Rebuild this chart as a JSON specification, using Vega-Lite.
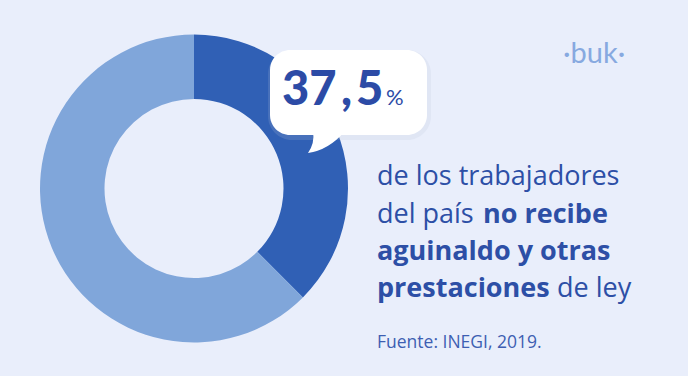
{
  "$schema": "https://vega.github.io/schema/vega-lite/v6.json",
  "width": 688,
  "height": 376,
  "autosize": {"type": "fit", "contains": "padding"},
  "padding": 0,
  "background": "#E9EEFB",
  "config": {"view": {"stroke": null}},
  "layer": [
    {
      "data": {"values": [
        {"categoria": "No recibe aguinaldo", "porcentaje": 37.5, "orden": 1},
        {"categoria": "Recibe aguinaldo", "porcentaje": 62.5, "orden": 2}
      ]},
      "mark": {"type": "arc", "x": 194, "y": 188.5, "outerRadius": 154, "innerRadius": 89.5},
      "encoding": {
        "theta": {"field": "porcentaje", "type": "quantitative", "stack": true},
        "order": {"field": "orden", "type": "quantitative"},
        "color": {"field": "categoria", "type": "nominal", "legend": null,
          "scale": {"domain": ["No recibe aguinaldo", "Recibe aguinaldo"], "range": ["#3060B5", "#80A6DA"]}}
      }
    },
    {
      "data": {"values": [{"a": 1}]},
      "mark": {"type": "rect", "x": 268, "x2": 431, "y": 50, "y2": 140, "cornerRadius": 24, "color": "#B8C2DA", "opacity": 0.18},
      "encoding": {}
    },
    {
      "data": {"values": [{"a": 1}]},
      "mark": {"type": "rect", "x": 270, "x2": 427, "y": 50, "y2": 135, "cornerRadius": 20, "color": "#FFFFFF"},
      "encoding": {}
    },
    {
      "data": {"values": [{"a": 1}]},
      "mark": {"type": "point", "x": 327, "y": 143, "size": 1600, "filled": true, "opacity": 1, "color": "#FFFFFF",
        "shape": "M -0.7 -0.6 L 0.9 -0.6 Q 0.1 0.35 -0.95 0.5 Q -0.6 0 -0.7 -0.6 Z"},
      "encoding": {}
    },
    {
      "data": {"values": [{"t": "37"}]},
      "mark": {"type": "text", "x": 282, "y": 105, "align": "left", "baseline": "alphabetic", "font": "Lato", "fontWeight": 900, "fontSize": 47, "color": "#2C4BA6"},
      "encoding": {"text": {"field": "t"}}
    },
    {
      "data": {"values": [{"t": ","}]},
      "mark": {"type": "text", "x": 341, "y": 105, "align": "left", "baseline": "alphabetic", "font": "Lato", "fontWeight": 900, "fontSize": 47, "color": "#2C4BA6"},
      "encoding": {"text": {"field": "t"}}
    },
    {
      "data": {"values": [{"t": "5"}]},
      "mark": {"type": "text", "x": 356, "y": 105, "align": "left", "baseline": "alphabetic", "font": "Lato", "fontWeight": 900, "fontSize": 47, "color": "#2C4BA6"},
      "encoding": {"text": {"field": "t"}}
    },
    {
      "data": {"values": [{"t": "%"}]},
      "mark": {"type": "text", "x": 386, "y": 105, "align": "left", "baseline": "alphabetic", "font": "Lato", "fontWeight": 400, "fontSize": 22, "color": "#2C4BA6"},
      "encoding": {"text": {"field": "t"}}
    },
    {
      "data": {"values": [{"t": "de los trabajadores"}]},
      "mark": {"type": "text", "x": 377, "y": 185, "align": "left", "baseline": "alphabetic", "font": "Open Sans", "fontWeight": 400, "fontSize": 27, "color": "#2D4FA6"},
      "encoding": {"text": {"field": "t"}}
    },
    {
      "data": {"values": [{"t": "del país"}]},
      "mark": {"type": "text", "x": 377, "y": 222.5, "align": "left", "baseline": "alphabetic", "font": "Open Sans", "fontWeight": 400, "fontSize": 27, "color": "#2D4FA6"},
      "encoding": {"text": {"field": "t"}}
    },
    {
      "data": {"values": [{"t": "no recibe"}]},
      "mark": {"type": "text", "x": 483, "y": 222.5, "align": "left", "baseline": "alphabetic", "font": "Open Sans", "fontWeight": 700, "fontSize": 27, "color": "#2D4FA6"},
      "encoding": {"text": {"field": "t"}}
    },
    {
      "data": {"values": [{"t": "aguinaldo y otras"}]},
      "mark": {"type": "text", "x": 377, "y": 260, "align": "left", "baseline": "alphabetic", "font": "Open Sans", "fontWeight": 700, "fontSize": 27, "color": "#2D4FA6"},
      "encoding": {"text": {"field": "t"}}
    },
    {
      "data": {"values": [{"t": "prestaciones"}]},
      "mark": {"type": "text", "x": 377, "y": 297, "align": "left", "baseline": "alphabetic", "font": "Open Sans", "fontWeight": 700, "fontSize": 27, "color": "#2D4FA6"},
      "encoding": {"text": {"field": "t"}}
    },
    {
      "data": {"values": [{"t": "de ley"}]},
      "mark": {"type": "text", "x": 557, "y": 297, "align": "left", "baseline": "alphabetic", "font": "Open Sans", "fontWeight": 400, "fontSize": 27, "color": "#2D4FA6"},
      "encoding": {"text": {"field": "t"}}
    },
    {
      "data": {"values": [{"t": "Fuente: INEGI, 2019."}]},
      "mark": {"type": "text", "x": 377, "y": 348, "align": "left", "baseline": "alphabetic", "font": "Open Sans", "fontWeight": 400, "fontSize": 17.5, "color": "#3D5EB2"},
      "encoding": {"text": {"field": "t"}}
    },
    {
      "data": {"values": [{"t": "·buk·"}]},
      "mark": {"type": "text", "x": 563, "y": 63, "align": "left", "baseline": "alphabetic", "font": "Lato", "fontWeight": 400, "fontSize": 29, "color": "#87A9E0"},
      "encoding": {"text": {"field": "t"}}
    }
  ]
}
